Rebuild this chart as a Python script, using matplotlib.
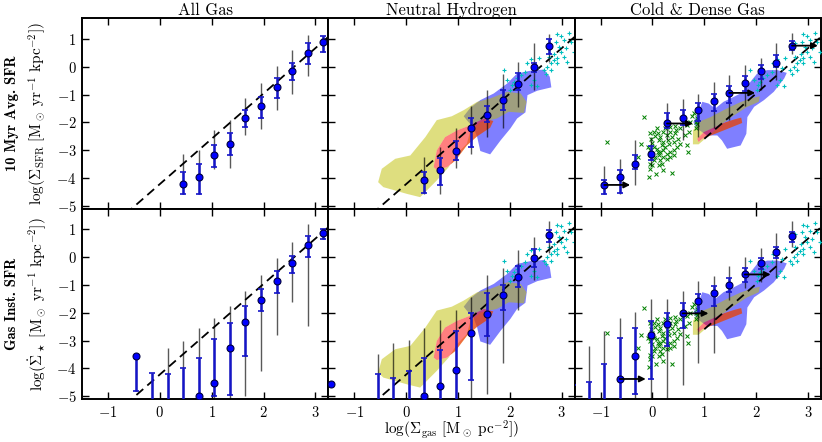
import numpy as np
import matplotlib
matplotlib.use('Agg')
import matplotlib.pyplot as plt
from matplotlib.path import Path
from matplotlib.patches import PathPatch

plt.rcParams['font.family'] = 'serif'
plt.rcParams['font.serif'] = ['cmr10']
plt.rcParams['mathtext.fontset'] = 'cm'
plt.rcParams['axes.formatter.use_mathtext'] = True
plt.rcParams['axes.unicode_minus'] = True

# ---- binned medians: x, y, thin black range, blue capped range ----
# row 1: 10 Myr averaged SFR
avg_all_x = [0.45, 0.75, 1.05, 1.35, 1.65, 1.95, 2.25, 2.55, 2.85, 3.15]
avg_all_y = [-4.23, -3.97, -3.16, -2.79, -1.86, -1.42, -0.74, -0.16, 0.48, 0.90]
avg_all_khi = [-3.15, -3.01, -2.29, -1.90, -1.14, -0.60, 0.04, 0.60, 1.14, 1.10]
avg_all_klo = [-4.57, -4.57, -3.67, -3.65, -2.44, -2.23, -1.56, -0.99, -0.32, 0.60]
avg_all_bhi = [-3.79, -3.49, -2.80, -2.38, -1.56, -1.08, -0.40, 0.15, 0.87, 1.11]
avg_all_blo = [-4.57, -4.57, -3.61, -3.16, -2.16, -1.83, -1.11, -0.48, 0.09, 0.54]

avg_hi_x = [0.35, 0.66, 0.96, 1.26, 1.56, 1.86, 2.16, 2.46, 2.76]
avg_hi_y = [-4.09, -3.72, -3.03, -2.22, -1.72, -1.20, -0.62, -0.01, 0.76]
avg_hi_khi = [-3.25, -2.89, -2.20, -1.42, -0.82, -0.26, 0.18, 0.87, 1.18]
avg_hi_klo = [-4.57, -4.57, -3.65, -3.15, -2.53, -2.19, -1.44, -0.84, 0.18]
avg_hi_bhi = [-3.79, -3.27, -2.67, -1.83, -1.40, -0.82, -0.24, 0.14, 0.99]
avg_hi_blo = [-4.54, -4.24, -3.34, -2.87, -1.99, -1.56, -0.84, -0.18, 0.46]

avg_cold_x = [-0.93, -0.63, -0.33, -0.03, 0.28, 0.58, 0.88, 1.18, 1.48, 1.78, 2.09, 2.39, 2.69]
avg_cold_y = [-4.25, -3.97, -3.51, -3.15, -2.04, -1.83, -1.56, -1.24, -0.94, -0.58, -0.16, 0.15, 0.76]
avg_cold_khi = [-3.57, -3.31, -2.62, -2.53, -1.30, -1.17, -0.99, -0.54, -0.29, 0.06, 0.33, 0.87, 1.20]
avg_cold_klo = [-4.57, -4.57, -4.27, -3.57, -2.65, -2.62, -2.53, -2.22, -1.90, -1.42, -0.82, -0.48, 0.46]
avg_cold_bhi = [-4.09, -3.71, -3.19, -2.85, -1.68, -1.56, -1.32, -0.99, -0.69, -0.34, 0.05, 0.42, 0.94]
avg_cold_blo = [-4.57, -4.54, -3.69, -3.37, -2.22, -2.11, -1.95, -1.60, -1.30, -0.87, -0.43, 0.00, 0.60]
avg_cold_arrow_x = [-0.93, 0.28, 1.48, 2.69]
avg_cold_arrow_y = [-4.25, -2.04, -0.94, 0.76]

# row 2: gas instantaneous SFR
inst_all_x = [-0.45, -0.15, 0.15, 0.45, 0.75, 1.05, 1.35, 1.65, 1.95, 2.25, 2.55, 2.85, 3.15]
inst_all_y = [-3.57, -6.0, -6.0, -6.0, -5.0, -4.51, -3.27, -2.32, -1.54, -0.87, -0.22, 0.43, 0.86]
inst_all_khi = [-3.57, -4.15, -3.27, -3.03, -2.55, -2.19, -1.75, -1.20, -0.64, -0.04, 0.53, 1.19, 1.00]
inst_all_klo = [-4.80, -7.0, -7.0, -7.0, -7.0, -7.0, -7.0, -5.0, -4.11, -2.80, -1.60, -2.47, 0.65]
inst_all_bhi = [-3.57, -4.15, -4.20, -3.99, -3.61, -2.95, -2.37, -1.75, -1.14, -0.49, 0.06, 0.78, 1.00]
inst_all_blo = [-4.80, -7.0, -7.0, -7.0, -7.0, -4.99, -4.95, -3.57, -1.93, -1.30, -0.58, 0.00, 0.65]

inst_hi_x = [-1.45, -0.55, -0.25, 0.05, 0.35, 0.66, 0.96, 1.26, 1.56, 1.86, 2.16, 2.46, 2.76]
inst_hi_y = [-4.55, -6.0, -6.0, -6.0, -4.99, -4.62, -4.05, -2.73, -2.03, -1.37, -0.70, -0.04, 0.79]
inst_hi_khi = [-4.55, -3.48, -3.09, -2.98, -2.55, -2.25, -1.90, -1.42, -0.64, -0.40, 0.26, 0.74, 1.32]
inst_hi_klo = [-4.55, -7.0, -7.0, -7.0, -7.0, -7.0, -7.0, -7.0, -4.93, -3.79, -1.90, -0.82, 0.14]
inst_hi_bhi = [-4.55, -4.21, -4.35, -4.08, -3.61, -3.33, -2.65, -2.02, -1.30, -1.00, -0.31, 0.28, 0.98]
inst_hi_blo = [-4.55, -7.0, -7.0, -7.0, -7.0, -7.0, -7.0, -4.41, -2.85, -1.90, -1.08, -0.34, 0.56]

inst_cold_x = [-1.53, -1.23, -0.93, -0.63, -0.33, -0.03, 0.28, 0.58, 0.88, 1.18, 1.48, 1.78, 2.09, 2.39, 2.69]
inst_cold_y = [-6.0, -6.0, -6.0, -4.38, -3.55, -2.81, -2.41, -2.02, -1.57, -1.27, -0.99, -0.62, -0.22, 0.18, 0.77]
inst_cold_khi = [-4.6, -3.18, -2.67, -2.19, -1.98, -1.51, -1.51, -1.20, -0.85, -0.67, -0.31, 0.00, 0.32, 0.86, 1.30]
inst_cold_klo = [-7.0, -7.0, -7.0, -7.0, -7.0, -7.0, -7.0, -4.59, -3.79, -3.43, -1.54, -1.12, -0.88, -0.76, 0.38]
inst_cold_bhi = [-4.6, -4.5, -3.85, -2.92, -2.53, -2.28, -1.99, -1.63, -1.33, -1.03, -0.76, -0.40, -0.04, 0.38, 0.92]
inst_cold_blo = [-7.0, -7.0, -7.0, -7.0, -4.93, -4.39, -3.21, -2.53, -2.02, -1.75, -1.24, -0.88, -0.43, -0.04, 0.56]
inst_cold_arrow_x = [-0.63, 0.58, 1.78]
inst_cold_arrow_y = [-4.38, -2.02, -0.62]

# ---- density regions (outlines in data coords) ----
hi_blue_x = [1.11, 1.24, 1.43, 1.69, 1.95, 2.14, 2.40, 2.66, 2.77, 2.80, 2.53, 2.34, 2.30, 2.14,
             2.01, 1.82, 1.62, 1.43, 1.37, 1.30, 1.17]
hi_blue_y = [-1.78, -1.47, -1.20, -0.96, -0.60, -0.24, -0.14, -0.10, -0.36, -0.74, -0.86, -1.02, -1.64, -1.86,
             -2.22, -2.65, -3.15, -3.03, -2.53, -2.19, -1.92]
hi_yellow_x = [-0.54, -0.47, -0.21, 0.08, 0.37, 0.59, 0.88, 1.11, 1.37, 1.62, 1.95, 2.21, 2.32, 2.27,
               1.98, 1.75, 1.43, 1.24, 1.17, 0.98, 0.82, 0.59, 0.27, 0.01, -0.25, -0.44]
hi_yellow_y = [-4.15, -3.67, -3.31, -3.19, -2.53, -1.92, -1.78, -1.56, -1.26, -1.14, -0.90, -0.96, -1.26, -1.66,
               -1.62, -1.86, -1.99, -2.29, -2.77, -3.13, -3.61, -4.09, -4.69, -4.57, -4.43, -4.33]
hi_red_x = [0.53, 0.59, 0.75, 0.98, 1.24, 1.50, 1.68, 1.62, 1.37, 1.17, 0.95, 0.79, 0.59]
hi_red_y = [-3.61, -3.01, -2.53, -2.29, -2.10, -1.86, -1.95, -2.19, -2.50, -2.83, -3.37, -3.61, -3.70]

cold_blue_x = [0.79, 0.89, 0.96, 1.08, 1.21, 1.37, 1.57, 1.76, 1.89, 2.02, 2.21, 2.41, 2.59, 2.54,
               2.34, 2.15, 1.96, 1.83, 1.81, 1.70, 1.44, 1.34, 1.25, 1.05, 0.86]
cold_blue_y = [-1.99, -1.62, -1.26, -1.32, -1.50, -1.26, -1.08, -0.90, -0.54, -0.24, -0.12, -0.12, -0.22, -0.42,
               -0.90, -1.20, -1.44, -1.81, -2.41, -2.83, -2.95, -2.65, -2.47, -2.47, -2.22]
cold_yellow_x = [0.78, 0.78, 0.92, 1.12, 1.31, 1.50, 1.70, 1.89, 2.07, 2.05, 1.83, 1.63, 1.44, 1.25, 1.05, 0.89]
cold_yellow_y = [-2.79, -2.29, -1.96, -1.81, -1.62, -1.44, -1.27, -1.14, -1.06, -1.26, -1.44, -1.68, -1.92, -2.22,
                 -2.53, -2.79]
cold_red_x = [0.86, 0.99, 1.18, 1.37, 1.57, 1.71, 1.73, 1.57, 1.37, 1.18, 0.96, 0.89]
cold_red_y = [-2.59, -2.35, -2.19, -2.02, -1.90, -1.83, -2.02, -2.14, -2.29, -2.43, -2.59, -2.71]

# ---- individual objects ----
cyan_x = [2.91, 2.98, 3.14, 3.04, 2.88, 2.95, 3.08, 3.17, 3.24, 2.98, 3.04, 2.91, 2.85, 2.79, 2.72,
          2.66, 2.69, 2.79, 2.56, 2.50, 2.40, 2.33, 2.30, 2.21, 2.14, 2.08, 2.04, 2.01, 1.88, 1.95,
          2.46, 2.40, 2.53, 2.75, 2.86, 2.75, 3.11, 2.91]
cyan_y = [1.17, 1.11, 1.23, 0.96, 0.90, 0.72, 0.66, 0.90, 0.54, 0.54, 0.36, 0.30, 0.24, 0.12, 0.00,
          -0.12, -0.26, -0.12, 0.30, -0.06, 0.27, 0.12, -0.18, -0.30, -0.42, -0.54, -0.66, -0.84, -0.12, -0.48,
          -0.48, -0.66, -0.70, 0.84, 0.46, 0.36, 0.18, 0.12]
green_x = [-0.87, -0.17, -0.22, -0.27, -0.04, -0.03, -0.01, 0.05, 0.10, 0.12, 0.15, 0.18, 0.21, 0.25,
           0.28, 0.29, 0.31, 0.34, 0.38, 0.41, 0.44, 0.46, 0.47, 0.50, 0.54, 0.41, 0.34, 0.28, 0.21,
           0.15, 0.12, 0.05, 0.02, -0.01, -0.04, -0.06, 0.07, 0.21, 0.38, 0.12, 0.18, 0.28, 0.34,
           -0.01, -0.04, -0.08, 0.02, 0.09, 0.15, 0.21, 0.54, 0.60, 0.67, 0.63, 0.67, 0.68, 0.73,
           0.83, 0.86, 0.76, 0.09, 0.02, 0.21, 0.25, 0.34, 0.44, -0.04, 0.10, 0.70, 0.80, 0.86,
           0.83, 0.41]
green_y = [-2.71, -1.81, -2.79, -3.25, -2.38, -2.59, -2.74, -2.50, -2.40, -2.65, -2.53, -2.83, -2.71, -2.89,
           -2.47, -2.65, -2.79, -2.35, -2.53, -2.71, -2.40, -2.29, -2.89, -2.59, -2.77, -3.01, -3.07, -3.13, -3.25,
           -3.37, -3.19, -3.25, -3.37, -3.55, -3.67, -3.95, -3.85, -3.73, -3.83, -3.55, -3.49, -3.31, -3.25,
           -3.13, -3.01, -2.89, -2.89, -2.95, -3.07, -3.01, -2.22, -2.04, -2.10, -2.47, -2.83, -3.07, -1.99,
           -1.99, -2.07, -1.78, -2.22, -2.35, -2.35, -2.22, -2.17, -2.14, -3.51, -3.07, -2.35, -1.68, -1.86,
           -2.22, -3.19]

# Kennicutt-Schmidt style reference line
KS_SLOPE = 1.63
KS_ICPT = -4.22

titles = ['All Gas', 'Neutral Hydrogen', 'Cold & Dense Gas']
row_labels = ['10 Myr Avg. SFR', 'Gas Inst. SFR']
ylabels = [r'$\log(\Sigma_{\rm SFR}\ [{\rm M_\odot\ yr^{-1}\ kpc^{-2}}])$',
           r'$\log(\dot{\Sigma}_\star\ [{\rm M_\odot\ yr^{-1}\ kpc^{-2}}])$']
xlabel = r'$\log(\Sigma_{\rm gas}\ [{\rm M_\odot\ pc^{-2}}])$'


def fill_region(ax, xs, ys, color, z, hole=None):
    verts = list(zip(xs, ys))
    codes = [Path.MOVETO] + [Path.LINETO] * (len(verts) - 1)
    if hole is not None:
        hv = list(zip(hole[0], hole[1]))
        # opposite orientation so it cuts out
        a1 = np.sum(np.array(xs) * np.roll(ys, -1) - np.roll(xs, -1) * np.array(ys))
        a2 = np.sum(np.array(hole[0]) * np.roll(hole[1], -1) - np.roll(hole[0], -1) * np.array(hole[1]))
        if np.sign(a1) == np.sign(a2):
            hv = hv[::-1]
        verts += hv
        codes += [Path.MOVETO] + [Path.LINETO] * (len(hv) - 1)
    ax.add_patch(PathPatch(Path(verts, codes), facecolor=color, edgecolor='none',
                           alpha=0.5, zorder=z))


def draw_bins(ax, x, y, klo, khi, blo, bhi):
    x = np.array(x)
    blo, bhi = np.array(blo), np.array(bhi)
    ax.vlines(x, klo, khi, color='k', lw=1.0, alpha=0.65, zorder=6)
    mid = (blo + bhi) / 2
    half = (bhi - blo) / 2
    _, caps, bars = ax.errorbar(x, mid, yerr=half, fmt='none', ecolor='#1515c8',
                                elinewidth=1.8, capsize=2.5, capthick=1.2, zorder=7)
    for c in caps:
        c.set_color('#5070ff')
    ax.plot(x, y, 'o', ms=5, mfc='#0000ff', mec='#000040', mew=0.8, zorder=9)


fig = plt.figure(figsize=(8.22, 4.42), dpi=100)
gs = fig.add_gridspec(2, 3, left=0.0998, right=0.9988, top=0.959, bottom=0.0973,
                      hspace=0, wspace=0)
axes = [[fig.add_subplot(gs[r, c]) for c in range(3)] for r in range(2)]

bins = [
    [(avg_all_x, avg_all_y, avg_all_klo, avg_all_khi, avg_all_blo, avg_all_bhi),
     (avg_hi_x, avg_hi_y, avg_hi_klo, avg_hi_khi, avg_hi_blo, avg_hi_bhi),
     (avg_cold_x, avg_cold_y, avg_cold_klo, avg_cold_khi, avg_cold_blo, avg_cold_bhi)],
    [(inst_all_x, inst_all_y, inst_all_klo, inst_all_khi, inst_all_blo, inst_all_bhi),
     (inst_hi_x, inst_hi_y, inst_hi_klo, inst_hi_khi, inst_hi_blo, inst_hi_bhi),
     (inst_cold_x, inst_cold_y, inst_cold_klo, inst_cold_khi, inst_cold_blo, inst_cold_bhi)],
]
arrows = [(avg_cold_arrow_x, avg_cold_arrow_y), (inst_cold_arrow_x, inst_cold_arrow_y)]

for r in range(2):
    for c in range(3):
        ax = axes[r][c]
        if c == 1:
            fill_region(ax, hi_blue_x, hi_blue_y, 'b', 1)
            fill_region(ax, hi_yellow_x, hi_yellow_y, (0.75, 0.75, 0), 2, hole=(hi_red_x, hi_red_y))
            fill_region(ax, hi_red_x, hi_red_y, 'r', 3)
        if c == 2:
            fill_region(ax, cold_blue_x, cold_blue_y, 'b', 1)
            fill_region(ax, cold_yellow_x, cold_yellow_y, (0.75, 0.75, 0), 2, hole=(cold_red_x, cold_red_y))
            fill_region(ax, cold_red_x, cold_red_y, 'r', 3)
            ax.plot(green_x, green_y, 'x', color='g', ms=2.8, mew=0.7, zorder=5)
        if c > 0:
            ax.plot(cyan_x, cyan_y, '+', color=(0, 0.75, 0.75), ms=3.2, mew=0.8, zorder=5)

        lx = np.array([1.0 if c == 2 else -1.5, 3.25])
        ax.plot(lx, KS_SLOPE * lx + KS_ICPT, color='k', lw=1.3, dashes=(5, 3), zorder=4)

        draw_bins(ax, *bins[r][c])
        if c == 2:
            for ax_, ay_ in zip(*arrows[r]):
                ax.annotate('', xy=(ax_ + 0.5, ay_), xytext=(ax_, ay_),
                            arrowprops=dict(arrowstyle='-|>', color='k', lw=1.3,
                                            mutation_scale=9, shrinkA=0, shrinkB=0),
                            zorder=10)

        ax.set_xlim(-1.5, 3.25)
        ax.set_ylim(-5.1, 1.75)
        ax.set_xticks([-1, 0, 1, 2, 3])
        ax.set_yticks([-5, -4, -3, -2, -1, 0, 1])
        ax.tick_params(direction='in', top=True, right=True, length=5, width=1,
                       labelsize=10.5, colors='k', pad=4)
        for s in ax.spines.values():
            s.set_linewidth(1.4)
        if r == 0:
            ax.set_xticklabels([])
            ax.set_title(titles[c], fontsize=12, pad=2)
        if c > 0:
            ax.set_yticklabels([])
        else:
            ax.set_ylabel(ylabels[r], fontsize=11)
            ax.yaxis.set_label_coords(-0.135, 0.5)

axes[1][1].set_xlabel(xlabel, fontsize=11)
axes[1][1].xaxis.set_label_coords(0.5, -0.1)

fig.text(0.014, 0.744, row_labels[0], rotation=90, ha='center', va='center',
         family='cmb10', fontsize=10.5)
fig.text(0.014, 0.312, row_labels[1], rotation=90, ha='center', va='center',
         family='cmb10', fontsize=10.5)

fig.savefig('out.png', dpi=100)
